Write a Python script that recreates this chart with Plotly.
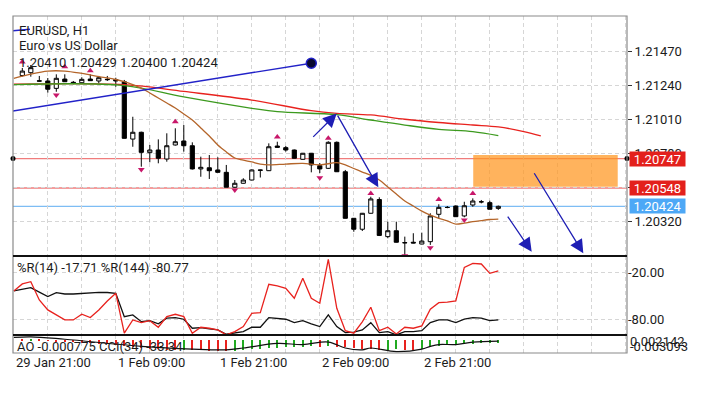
import plotly.graph_objects as go

# ---------------- data ----------------
bar_idx = list(range(1, 58))
opens = [1.21309, 1.21328, 1.21273, 1.21272, 1.21222, 1.21285, 1.21263, 1.21260, 1.21285, 1.21272,
         1.21283, 1.21282, 1.21267, 1.20879, 1.20925, 1.20787, 1.20805, 1.20744, 1.20839, 1.20866,
         1.20834, 1.20677, 1.20685, 1.20670, 1.20654, 1.20553, 1.20580, 1.20602, 1.20670, 1.20665,
         1.20832, 1.20821, 1.20805, 1.20742, 1.20783, 1.20699, 1.20681, 1.20857, 1.20658, 1.20343,
         1.20269, 1.20377, 1.20470, 1.20219, 1.20259, 1.20179, 1.20181, 1.20169, 1.20185, 1.20370,
         1.20417, 1.20426, 1.20359, 1.20433, 1.20455, 1.20449, 1.20410]
highs = [1.21360, 1.21380, 1.21306, 1.21292, 1.21317, 1.21317, 1.21272, 1.21297, 1.21317, 1.21306,
         1.21306, 1.21294, 1.21279, 1.21030, 1.20929, 1.20839, 1.20877, 1.20918, 1.20952, 1.20974,
         1.20857, 1.20760, 1.20771, 1.20756, 1.20704, 1.20602, 1.20614, 1.20674, 1.20672, 1.20850,
         1.20861, 1.20832, 1.20808, 1.20785, 1.20785, 1.20717, 1.20864, 1.20863, 1.20670, 1.20345,
         1.20379, 1.20489, 1.20485, 1.20320, 1.20320, 1.20219, 1.20242, 1.20246, 1.20377, 1.20438,
         1.20426, 1.20430, 1.20455, 1.20478, 1.20467, 1.20462, 1.20429]
lows = [1.21302, 1.21301, 1.21268, 1.21193, 1.21199, 1.21265, 1.21250, 1.21256, 1.21272, 1.21256,
        1.21272, 1.21233, 1.20883, 1.20827, 1.20692, 1.20722, 1.20715, 1.20726, 1.20835, 1.20794,
        1.20673, 1.20624, 1.20609, 1.20653, 1.20553, 1.20550, 1.20578, 1.20600, 1.20619, 1.20663,
        1.20821, 1.20794, 1.20747, 1.20740, 1.20654, 1.20649, 1.20677, 1.20656, 1.20342, 1.20252,
        1.20257, 1.20375, 1.20223, 1.20208, 1.20179, 1.20095, 1.20174, 1.20167, 1.20163, 1.20343,
        1.20411, 1.20352, 1.20350, 1.20421, 1.20444, 1.20403, 1.20400]
closes = [1.21339, 1.21362, 1.21271, 1.21216, 1.21290, 1.21267, 1.21258, 1.21283, 1.21274, 1.21294,
          1.21281, 1.21272, 1.20884, 1.20925, 1.20789, 1.20805, 1.20749, 1.20834, 1.20861, 1.20834,
          1.20677, 1.20688, 1.20665, 1.20654, 1.20553, 1.20580, 1.20602, 1.20670, 1.20668, 1.20827,
          1.20823, 1.20805, 1.20749, 1.20783, 1.20704, 1.20677, 1.20857, 1.20658, 1.20343, 1.20269,
          1.20377, 1.20474, 1.20227, 1.20259, 1.20181, 1.20177, 1.20176, 1.20189, 1.20359, 1.20417,
          1.20416, 1.20354, 1.20428, 1.20460, 1.20454, 1.20404, 1.20424]

frac_up_idx = [1, 6, 9, 19, 31, 37, 42, 50, 54]
frac_up_px = [1.21400, 1.21369, 1.21341, 1.20996, 1.20893, 1.20884, 1.20511, 1.20470, 1.20511]
frac_dn_idx = [5, 15, 26, 36, 46, 49, 53]
frac_dn_px = [1.21177, 1.20673, 1.20534, 1.20618, 1.20090, 1.20144, 1.20331]

ma_fast_idx = [0, 2, 4, 6, 8, 10, 12, 13, 14, 15, 16, 17, 18, 19, 20, 21, 22, 23, 24, 25, 26, 27, 28,
               29, 30, 32, 34, 36, 38, 39, 40, 41, 42, 43, 44, 45, 46, 47, 48, 49, 50, 51, 52, 53,
               54, 55, 56, 57]
ma_fast = [1.21290, 1.21319, 1.21339, 1.21339, 1.21323, 1.21302, 1.21282, 1.21267, 1.21248, 1.21224,
           1.21191, 1.21157, 1.21123, 1.21089, 1.21049, 1.21008, 1.20954, 1.20900, 1.20839, 1.20792,
           1.20751, 1.20737, 1.20724, 1.20710, 1.20704, 1.20710, 1.20715, 1.20704, 1.20719, 1.20704,
           1.20680, 1.20656, 1.20633, 1.20602, 1.20555, 1.20507, 1.20460, 1.20426, 1.20392, 1.20365,
           1.20343, 1.20325, 1.20304, 1.20311, 1.20320, 1.20328, 1.20335, 1.20338]
ma_mid_idx = [0, 13, 20, 28, 31, 38, 42, 46, 50, 54, 57]
ma_mid = [1.21247, 1.21241, 1.21164, 1.21087, 1.21064, 1.21044, 1.21008, 1.20974, 1.20945, 1.20930, 1.20903]
ma_slow_idx = [0, 13, 20, 28, 35, 38, 42, 46, 50, 54, 57, 60, 62]
ma_slow = [1.21251, 1.21247, 1.21201, 1.21143, 1.21071, 1.21053, 1.21042, 1.21013, 1.20991, 1.20974,
           1.20961, 1.20930, 1.20900]

trend_idx = [-0.1, 35]
trend_px = [1.21069, 1.21392]
trend2_idx = [-0.1, 1.9]
trend2_px = [1.21612, 1.21622]

# drawn arrows: (tail idx, tail price, head idx, head price)
arrows = [(35.05, 1.20884, 37.99, 1.21052),
          (38.0, 1.21048, 42.88, 1.20553),
          (57.99, 1.20365, 60.93, 1.20117),
          (61.12, 1.20658, 67.0, 1.20106)]

zone_idx = [54.05, 71.05]
zone_px = [1.20557, 1.20771]

level_red = [1.20747, 1.20548]
level_bid = 1.20424

y_ticks = [1.20320, 1.20550, 1.20780, 1.21010, 1.21240, 1.21470]

wr_idx = list(range(0, 58))
wr14 = [-43.5, -34.5, -31.6, -55.1, -67.9, -74.4, -80.8, -80.8, -73.5, -77.8,
        -67.9, -56.4, -46.5, -97.9, -80.8, -84.3, -81.7, -90.2, -76.6, -73.5,
        -76.6, -97.9, -90.2, -91.5, -93.7, -100.0, -95.8, -89.4, -72.2, -71.4,
        -34.9, -37.1, -40.1, -52.9, -27.2, -52.9, -59.3, -2.8, -65.8, -94.6,
        -97.9, -83.4, -64.5, -94.6, -90.2, -98.8, -90.2, -91.5, -88.5, -67.0,
        -58.6, -58.0, -56.4, -13.1, -7.9, -8.8, -20.8, -17.7]
wr144 = [-43.5, -41.0, -39.3, -45.0, -50.8, -45.7, -47.4, -47.4, -46.5, -45.7,
         -45.2, -45.5, -46.5, -76.6, -74.4, -83.0, -81.7, -85.9, -78.6, -77.8,
         -79.9, -91.5, -90.7, -92.4, -93.7, -99.2, -97.9, -95.8, -90.2, -90.2,
         -77.8, -78.6, -79.9, -84.3, -81.7, -85.9, -89.4, -74.4, -89.4, -97.1,
         -96.6, -93.7, -84.3, -97.1, -95.8, -100.0, -95.8, -95.8, -94.6, -84.3,
         -80.8, -80.8, -84.3, -79.9, -77.8, -78.6, -81.7, -80.8]

ao_idx = list(range(1, 58))
ao = [0.0003, 0.0004, 0.0002, -0.0002, -0.0004, -0.0005, -0.0006, -0.0007, -0.0008, -0.0010,
      -0.0012, -0.0013, -0.0016, -0.0019, -0.0022, -0.0024, -0.0026, -0.0027, -0.0028, -0.0027,
      -0.0028, -0.0029, -0.0030, -0.0031, -0.0031, -0.0030, -0.0028, -0.0026, -0.0024, -0.0022,
      -0.0021, -0.0020, -0.0019, -0.0018, -0.0017, -0.0018, -0.0017, -0.0018, -0.0020, -0.0022,
      -0.0024, -0.0026, -0.0028, -0.0027, -0.0026, -0.0027, -0.0029, -0.0024, -0.0020, -0.0017,
      -0.0015, -0.0013, -0.0011, -0.0010, -0.0009, -0.0008, -0.000775]
cci_idx = [0, 2, 6, 15, 21, 25, 27, 31, 34, 37, 39, 41, 42, 45, 48, 49, 50, 52, 54, 57]
cci = [34.7, 46.7, 0.7, -133.3, -185.3, -199.3, -165.3, -79.3, -99.3, -53.3,
       -165.3, -199.3, -165.3, -233.3, -185.3, -133.3, -99.3, -99.3, -53.3, -33.3]

x_label_idx = [0, 12, 24, 36, 48]
x_labels = ["29 Jan 21:00", "1 Feb 09:00", "1 Feb 21:00", "2 Feb 09:00", "2 Feb 21:00"]

# ---------------- figure ----------------
FONT = "Roboto"
TXT = "#1c1c1c"
W, H = 722, 393
ML, MR, MT, MB = 13, 95, 16, 40
PH = H - MT - MB


def py(ypx):
    return (H - MB - ypx) / PH


fig = go.Figure()

fig.add_trace(go.Candlestick(
    x=bar_idx, open=opens, high=highs, low=lows, close=closes,
    increasing=dict(line=dict(color="black", width=1), fillcolor="white"),
    decreasing=dict(line=dict(color="black", width=1), fillcolor="black"),
    whiskerwidth=0, xaxis="x", yaxis="y", showlegend=False, hoverinfo="skip"))

fig.add_trace(go.Scatter(x=ma_slow_idx, y=ma_slow, mode="lines", line=dict(color="#E8221E", width=1.3, shape="spline"),
                         xaxis="x", yaxis="y", showlegend=False))
fig.add_trace(go.Scatter(x=ma_mid_idx, y=ma_mid, mode="lines", line=dict(color="#3C9A1E", width=1.3, shape="spline"),
                         xaxis="x", yaxis="y", showlegend=False))
fig.add_trace(go.Scatter(x=ma_fast_idx, y=ma_fast, mode="lines", line=dict(color="#B4652A", width=1.3, shape="spline"),
                         xaxis="x", yaxis="y", showlegend=False))

fig.add_trace(go.Scatter(x=frac_up_idx, y=frac_up_px, mode="markers",
                         marker=dict(symbol="triangle-up", size=6, color="#C8176A"),
                         xaxis="x", yaxis="y", showlegend=False))
fig.add_trace(go.Scatter(x=frac_dn_idx, y=frac_dn_px, mode="markers",
                         marker=dict(symbol="triangle-down", size=6, color="#C8176A"),
                         xaxis="x", yaxis="y", showlegend=False, cliponaxis=True))

fig.add_trace(go.Scatter(x=trend_idx, y=trend_px, mode="lines", line=dict(color="#2222C8", width=1.4),
                         xaxis="x", yaxis="y", showlegend=False))
fig.add_trace(go.Scatter(x=trend2_idx, y=trend2_px, mode="lines", line=dict(color="#2222C8", width=1.4),
                         xaxis="x", yaxis="y", showlegend=False))
fig.add_trace(go.Scatter(x=[trend_idx[-1]], y=[trend_px[-1]], mode="markers",
                         marker=dict(size=10, color="#0a0a30", line=dict(color="#2222C8", width=1.5)),
                         xaxis="x", yaxis="y", showlegend=False))

# level end dots
fig.add_trace(go.Scatter(x=[-0.094, 72.14], y=[level_red[0], level_red[0]], mode="markers",
                         marker=dict(size=5, color="black"), cliponaxis=False,
                         xaxis="x", yaxis="y", showlegend=False))

# %R
fig.add_trace(go.Scatter(x=wr_idx, y=wr144, mode="lines", line=dict(color="#111111", width=1.3),
                         xaxis="x2", yaxis="y2", showlegend=False))
fig.add_trace(go.Scatter(x=wr_idx, y=wr14, mode="lines", line=dict(color="#E8221E", width=1.3),
                         xaxis="x2", yaxis="y2", showlegend=False))

# AO histogram as thin bars
ao_colors = ["#22AA22" if i > 0 and ao[i] > ao[i - 1] else "#E8221E" for i in range(len(ao))]
fig.add_trace(go.Bar(x=ao_idx, y=ao, marker=dict(color=ao_colors, line=dict(width=0)), width=0.18,
                     xaxis="x3", yaxis="y3", showlegend=False))
fig.add_trace(go.Scatter(x=cci_idx, y=cci, mode="lines", line=dict(color="#111111", width=1.2, shape="spline"),
                         xaxis="x3", yaxis="y4", showlegend=False))

xr = [-0.094, 72.14]
grid = dict(showgrid=True, gridcolor="#d6d6d6", griddash="4px,3px", gridwidth=1)
xcommon = dict(range=xr, tickvals=list(range(0, 73, 4)), showticklabels=False, ticks="",
               zeroline=False, showline=False, **grid)

fig.update_layout(
    width=W, height=H, margin=dict(l=ML, r=MR, t=MT, b=MB),
    paper_bgcolor="white", plot_bgcolor="white",
    font=dict(family=FONT, size=13, color=TXT),
    showlegend=False, bargap=0,
    xaxis=dict(anchor="y", rangeslider=dict(visible=False), **xcommon),
    xaxis2=dict(anchor="y2", matches="x", **xcommon),
    xaxis3=dict(anchor="y3", matches="x", **xcommon),
    yaxis=dict(domain=[py(256), 1], range=[1.20088, 1.217115], side="right",
               tickvals=y_ticks, ticktext=[f"{v:.5f}" for v in y_ticks],
               ticks="outside", ticklen=4, tickcolor="#333", tickfont=dict(size=13, color=TXT),
               zeroline=False, showline=False, **grid),
    yaxis2=dict(domain=[py(335), py(256)], range=[-100.2, 1.5], side="right",
                tickvals=[-20, -80], ticktext=["-20.00", "-80.00"], ticks="",
                tickfont=dict(size=13, color=TXT), zeroline=False, showline=False, **grid),
    yaxis3=dict(domain=[0, py(335)], range=[-0.0036, 0.0014], side="right",
                showticklabels=False, ticks="", zeroline=False, showline=False, showgrid=False),
    yaxis4=dict(overlaying="y3", range=[-259.3, 80.7], visible=False),
)

shapes = []
# orange zone
shapes.append(dict(type="rect", xref="x", yref="y", x0=zone_idx[0], x1=zone_idx[1], y0=zone_px[0], y1=zone_px[1],
                   fillcolor="rgba(255,150,30,0.72)", line=dict(width=0), layer="above"))
# horizontal levels
for lv in level_red:
    shapes.append(dict(type="line", xref="paper", yref="y", x0=0, x1=1, y0=lv, y1=lv,
                       line=dict(color="#F07C7C", width=1.3), layer="below"))
shapes.append(dict(type="line", xref="paper", yref="y", x0=0, x1=1, y0=level_bid, y1=level_bid,
                   line=dict(color="#7EBDF4", width=1.3), layer="below"))
# panel borders
shapes.append(dict(type="rect", xref="paper", yref="paper", x0=0, x1=1, y0=0, y1=1,
                   line=dict(color="#8a8a8a", width=1.2), fillcolor="rgba(0,0,0,0)"))
for yy in [py(256), py(335)]:
    shapes.append(dict(type="line", xref="paper", yref="paper", x0=0, x1=1, y0=yy, y1=yy,
                       line=dict(color="#111111", width=2)))
fig.update_layout(shapes=shapes)

ann = []
for (tx, ty, hx, hy) in arrows:
    ann.append(dict(x=hx, y=hy, ax=tx, ay=ty, xref="x", yref="y", axref="x", ayref="y",
                    showarrow=True, arrowhead=2, arrowsize=2.1, arrowwidth=1.3, arrowcolor="#1E1EB4", text=""))
# price labels
for lv, col in [(level_red[0], "#E3201C"), (level_red[1], "#E3201C"), (level_bid, "#4DA8F6")]:
    ann.append(dict(x=1, y=lv, xref="paper", yref="y", xanchor="left", yanchor="middle", xshift=2,
                    text=f"{lv:.5f}", showarrow=False, bgcolor=col, width=55, height=14, borderpad=0,
                    font=dict(color="white", size=13, family=FONT)))
# header text
for txt, ypx in [("EURUSD, H1", 30.7), ("Euro vs US Dollar", 45.5),
                 (f"{opens[-1]:.5f} {highs[-1]:.5f} {lows[-1]:.5f} {closes[-1]:.5f}", 62)]:
    ann.append(dict(x=(17 - ML) / 614, y=py(ypx), xref="paper", yref="paper", xanchor="left", yanchor="middle",
                    text=txt, showarrow=False, font=dict(size=13, color=TXT)))
ann.append(dict(x=(15 - ML) / 614, y=py(267.5), xref="paper", yref="paper", xanchor="left", yanchor="middle",
                text=f"%R(14) {wr14[-1] - 0.01:.2f} %R(144) {wr144[-1] + 0.03:.2f}", showarrow=False,
                font=dict(size=13, color=TXT)))
ann.append(dict(x=(15 - ML) / 614, y=py(346.5), xref="paper", yref="paper", xanchor="left", yanchor="middle",
                text=f"AO {ao[-1]:.6f} CCI(34) {cci[-1] - 0.04:.2f}", showarrow=False,
                font=dict(size=13, color=TXT)))
# AO axis labels (overlapping, as in the original)
for txt, ypx in [("0.002142", 341), ("-0.003093", 346.5)]:
    ann.append(dict(x=1, y=py(ypx), xref="paper", yref="paper", xanchor="left", yanchor="middle", xshift=1,
                    text=txt, showarrow=False, font=dict(size=13, color=TXT)))
# time labels
for xi, lab in zip(x_label_idx, x_labels):
    ann.append(dict(x=xi, y=py(362.5), xref="x3", yref="paper", xanchor="left", yanchor="middle",
                    text=lab, showarrow=False, font=dict(size=13, color=TXT)))
fig.update_layout(annotations=ann)

fig.write_html("out.html", config={"displayModeBar": False},
               post_script="document.body.style.margin='0px';")
